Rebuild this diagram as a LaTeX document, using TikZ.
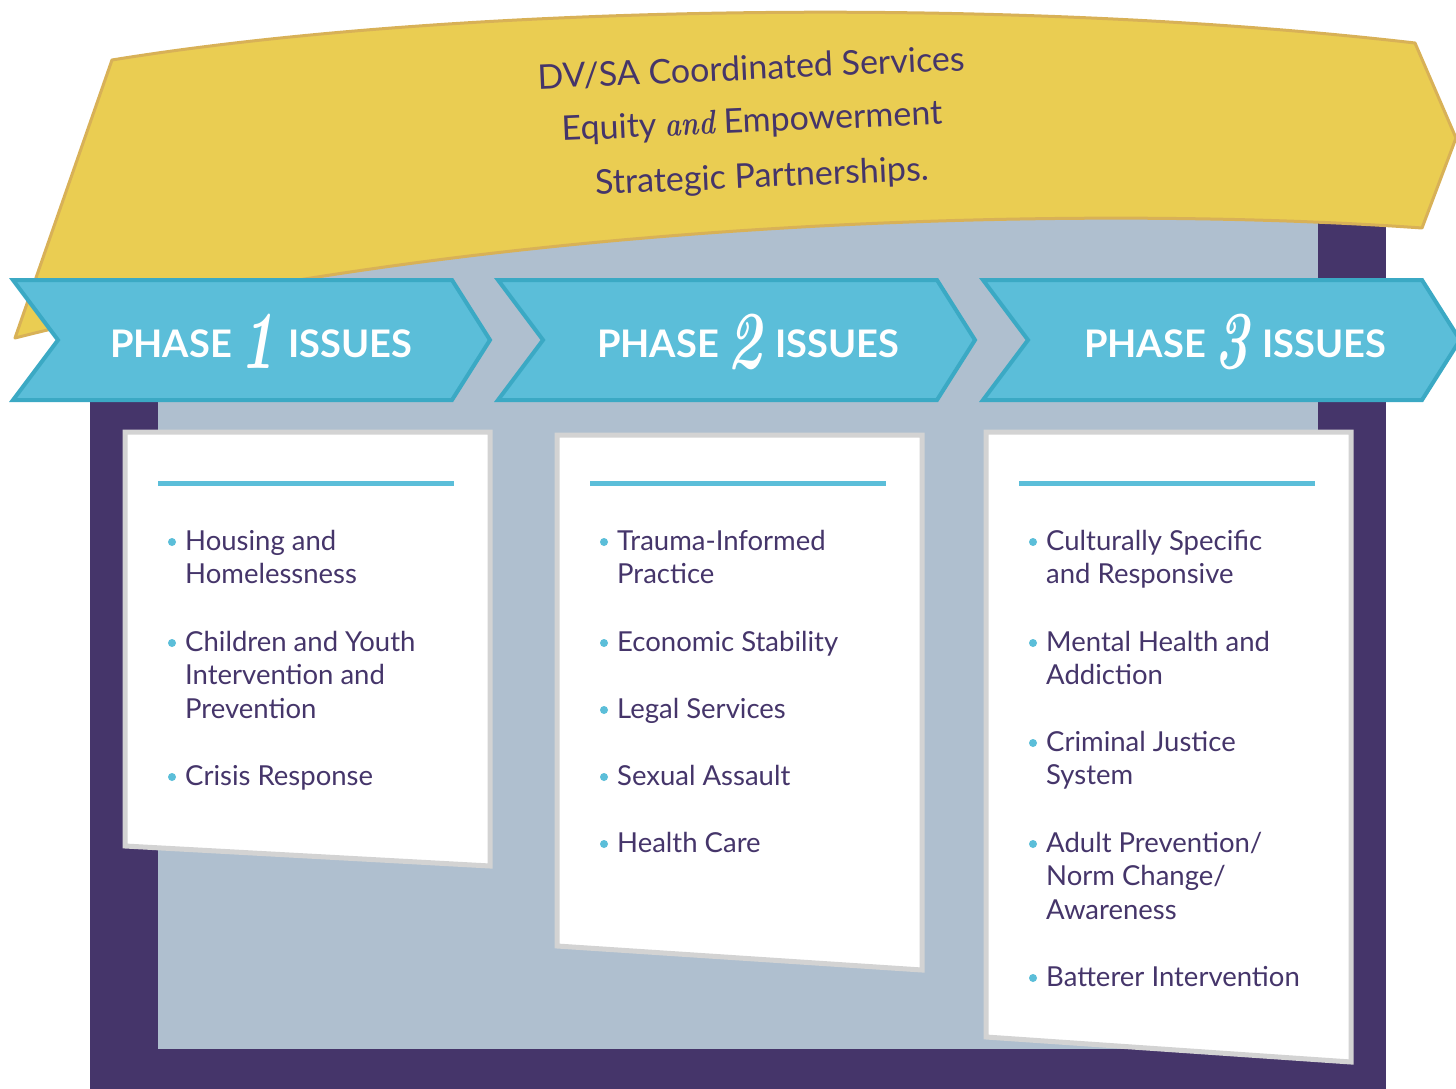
\documentclass[tikz,border=0pt]{standalone}
\usepackage{fontspec}
\usepackage{xcolor}
\usepackage{graphicx}
\usepackage{tikz}
\usetikzlibrary{calc}

\newfontfamily\lato{Lato}
\definecolor{framepurple}{HTML}{45356A}
\definecolor{panelgray}{HTML}{AFBFCF}
\definecolor{banneryellow}{HTML}{EACD52}
\definecolor{bannerline}{HTML}{D8B157}
\definecolor{chevfill}{HTML}{5BBED9}
\definecolor{chevline}{HTML}{3BA9C4}
\definecolor{cardline}{HTML}{D3D3D3}
\newcommand\phasenum[1]{\hspace{9pt}\raisebox{-11pt}{\scalebox{0.95}[1.35]{\fontsize{61}{61}\rmfamily\bfseries\itshape #1}}\hspace{13pt}}

\begin{document}
\begin{tikzpicture}[x=1pt, y=-1pt,
  chevron/.style={fill=chevfill, draw=chevline, line width=4pt},
  card/.style={fill=white, draw=cardline, line width=5pt},
  phaserule/.style={draw=chevfill, line width=5pt},
  issue/.style={anchor=base west, align=left, inner sep=0pt, text=framepurple, font=\lato\fontsize{27.5}{33.6}\selectfont},
  phase/.style={anchor=base, inner sep=0pt, text=white, font=\lato\bfseries\fontsize{38}{38}\selectfont},
  motto/.style={rotate=2.5, inner sep=0pt, text=framepurple, font=\lato\fontsize{34}{34}\selectfont}]

\useasboundingbox (0,0) rectangle (1456,1089);

\fill[framepurple] (90,200) rectangle (1386,1089);
\fill[panelgray] (158,200) rectangle (1318,1049);

\draw[fill=banneryellow, draw=bannerline, line width=3pt, line join=round]
  (112,60) .. controls (450,5) and (1000,-5) .. (1415,43) -- (1456,138) -- (1422,228)
  .. controls (1100,205) and (500,215) .. (15,338) -- cycle;

\node[motto] (motto1) at (751,68) {DV/SA Coordinated Services};
\node[motto] (motto2) at (752,123) {Equity \scalebox{0.8}[1]{\rmfamily\bfseries\itshape and} Empowerment};
\node[motto] (motto3) at (762,178) {Strategic Partnerships.};

\foreach \i/\n in {0/1,1/2,2/3}
{
	\draw[chevron] (13+485*\i,280) -- ++(439,0) -- ++(38,60) -- ++(-38,60) -- ++(-439,0) -- ++(45,-60) -- cycle;
	\node[phase] (phase\n) at (261+487*\i,357) {PHASE\phasenum{\n}ISSUES};
}

\foreach \l/\t/\bl/\br in {125/432/846/866, 557/435/946/970, 986/432/1037/1062}
{
	\draw[card] (\l,\t) -- (\l+365,\t) -- (\l+365,\br) -- (\l,\bl) -- cycle;
	\draw[phaserule] (\l+33,483) -- (\l+329,483);
}

\foreach \x/\y/\m/\txt [count=\k] in {
	125/550/2/{Housing and\\Homelessness},
	125/651/3/{Children and Youth\\Intervention and\\Prevention},
	125/785/1/{Crisis Response},
	557/550/2/{Trauma-Informed\\Practice},
	557/651/1/{Economic Stability},
	557/718/1/{Legal Services},
	557/785/1/{Sexual Assault},
	557/852/1/{Health Care},
	986/550/2/{Culturally Specific\\and Responsive},
	986/651/2/{Mental Health and\\Addiction},
	986/751/2/{Criminal Justice\\System},
	986/852/3/{Adult Prevention/\\Norm Change/\\Awareness},
	986/986/1/{Batterer Intervention}}
{
	\fill[chevfill] (\x+47,\y-8) circle (4);
	\node[issue] (issue\k) at (\x+60,\y+33.6*\m-33.6) {\txt};
}

\end{tikzpicture}
\end{document}
